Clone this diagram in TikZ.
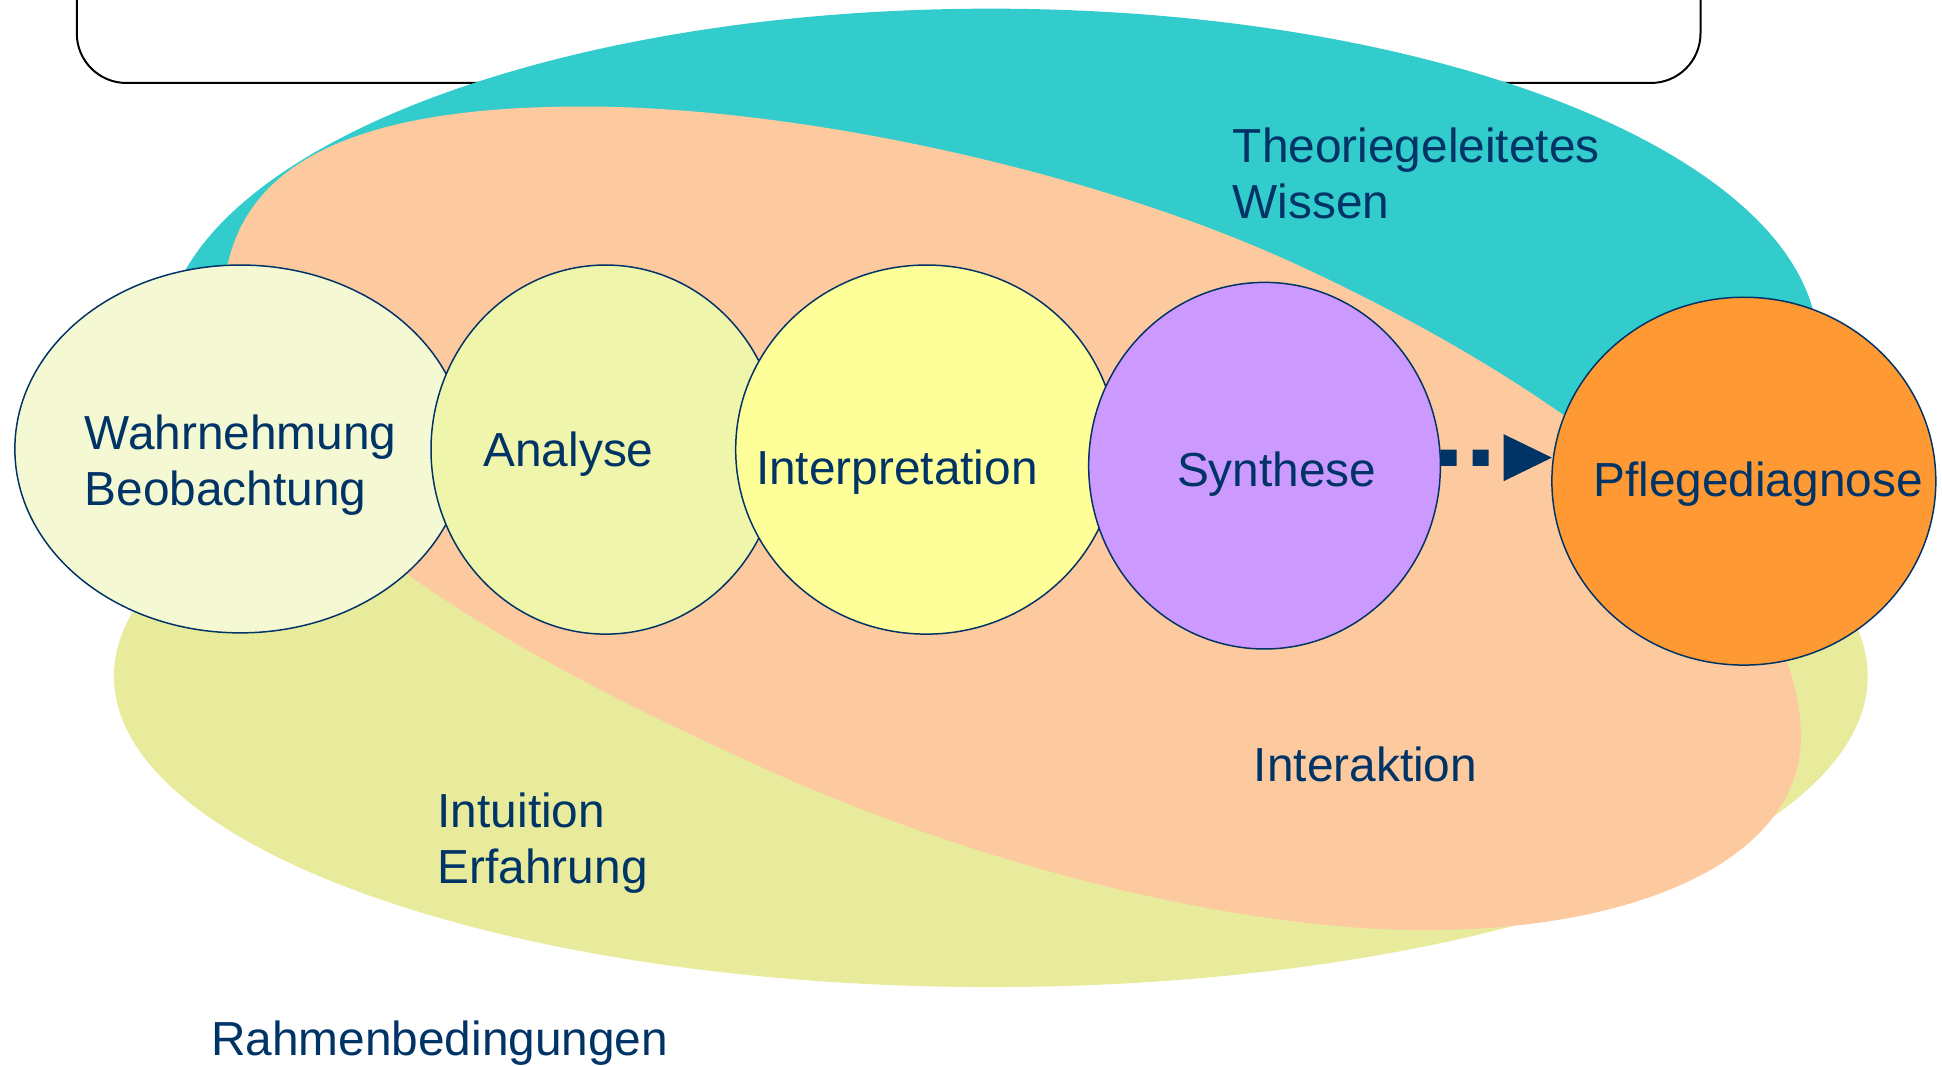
\documentclass[tikz,border=0pt]{standalone}
\usepackage{fontspec}
\setmainfont{Liberation Sans}
\usetikzlibrary{shapes.geometric,arrows.meta}
\definecolor{navy}{HTML}{003366}
\definecolor{cTeal}{HTML}{33CCCC}
\definecolor{cSalmon}{HTML}{FDC99E}
\definecolor{cYG}{HTML}{E8EB9C}
\definecolor{cW}{HTML}{F5F9D3}
\definecolor{cA}{HTML}{EFF5AB}
\definecolor{cI}{HTML}{FFFF99}
\definecolor{cS}{HTML}{CC99FF}
\definecolor{cP}{HTML}{FF9933}
\begin{document}
\begin{tikzpicture}[x=0.5pt,y=-0.5pt,
  bubble/.style={ellipse, draw=navy, line width=0.6pt, inner sep=0pt, outer sep=0pt},
  lbl/.style={anchor=base west, inner sep=0pt, text=navy, font=\fontsize{19.3}{22.75}\selectfont},
  flow/.style={line width=6.5pt, draw=navy, dash pattern=on 6.5pt off 6.5pt,
    -{Triangle[length=19.5pt,width=19pt,line width=0pt]}}]
\useasboundingbox (0,0) rectangle (1568,860);
\begin{scope}
  \clip (0,0) rectangle (1568,860);
  \draw[line width=0.8pt, fill=white, rounded corners=20pt] (62,-100) rectangle (1373,67);
\end{scope}
% background areas
\fill[cTeal] (800,281) ellipse [x radius=668, y radius=274];
\fill[cYG] (800,546) ellipse [x radius=708, y radius=251];
\fill[cSalmon] (471,86) .. controls (640,86) and (880,136) .. (1050,215)
  .. controls (1240,303) and (1454,445) .. (1454,595)
  .. controls (1454,692) and (1326,751) .. (1150,751)
  .. controls (1000,751) and (795,700) .. (625,624)
  .. controls (525,579) and (418,527) .. (328,463)
  .. controls (248,406) and (180,330) .. (180,250)
  .. controls (180,138.5) and (273,86) .. (471,86) -- cycle;
% process bubbles
\node[bubble, fill=cW, minimum width=182pt, minimum height=148.5pt] (w) at (194,362.5) {};
\node[bubble, fill=cA, minimum width=141pt, minimum height=149pt] (a) at (489,363) {};
\node[bubble, fill=cI, minimum width=154pt, minimum height=149pt] (i) at (748,363) {};
\node[bubble, fill=cS, minimum width=142pt, minimum height=148pt] (s) at (1021,376) {};
\node[bubble, fill=cP, minimum width=155pt, minimum height=148.5pt] (p) at (1408,388.5) {};
\draw[flow] ([yshift=3.2pt]s.east) -- ([yshift=9.5pt]p.west);
% labels
\node[lbl] (tw) at (68,363) {\begin{tabular}[t]{@{}l@{}}Wahrnehmung\\Beobachtung\end{tabular}};
\node[lbl] (ta) at (390,377) {Analyse};
\node[lbl] (ti) at (610,391) {Interpretation};
\node[lbl] (ts) at (950,393) {Synthese};
\node[lbl] (tp) at (1286,401) {Pflegediagnose};
\node[lbl] (tt) at (995,131) {\begin{tabular}[t]{@{}l@{}}Theoriegeleitetes\\Wissen\end{tabular}};
\node[lbl] (tk) at (1012,631) {Interaktion};
\node[lbl] (te) at (353,668) {\begin{tabular}[t]{@{}l@{}}Intuition\\Erfahrung\end{tabular}};
\node[lbl] (tr) at (170,852) {Rahmenbedingungen};
\end{tikzpicture}
\end{document}
